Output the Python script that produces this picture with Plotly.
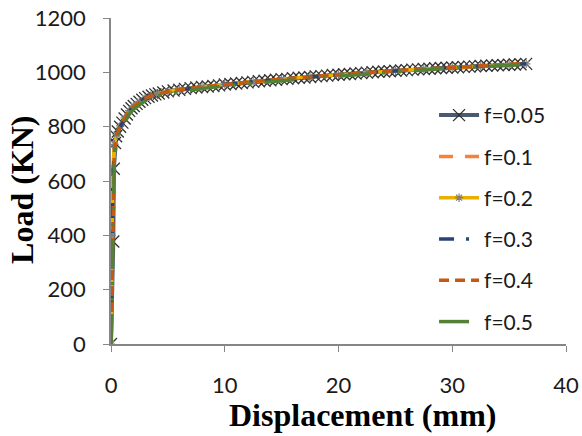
import plotly.graph_objects as go

# f = 0.05 (dense, with X markers)
disp_05 = [0, 0.2, 0.25, 0.35, 0.45, 0.6, 0.8, 1.0, 1.2, 1.4, 1.6, 1.8, 2.0, 2.25, 2.5, 2.75,
           3.0, 3.3, 3.6, 3.9, 4.2, 4.6, 5.0, 5.5, 6.0, 6.5, 7.0, 7.5, 8.0, 8.5, 9.0, 9.5,
           10.0, 10.5, 11.0, 11.5, 12.0, 12.5, 13.0, 13.5, 14.0, 14.5, 15.0, 15.5, 16.0, 16.5,
           17.0, 17.5, 18.0, 18.5, 19.0, 19.5, 20.0, 20.5, 21.0, 21.5, 22.0, 22.5, 23.0, 23.5,
           24.0, 24.5, 25.0, 25.5, 26.0, 26.5, 27.0, 27.5, 28.0, 28.5, 29.0, 29.5, 30.0, 30.5,
           31.0, 31.5, 32.0, 32.5, 33.0, 33.5, 34.0, 34.5, 35.0, 35.5, 36.0, 36.5]
load_05 = [0, 377, 645, 740, 765, 782, 800, 815, 830, 845, 858, 868, 876, 884, 892, 899,
           905, 910, 915, 919, 922, 926, 930, 933, 936, 939, 942, 944, 946, 948, 950, 952,
           955, 957, 959, 961, 963, 965, 967, 969, 971, 973, 975, 976, 978, 980, 981, 983,
           985, 986, 988, 990, 991, 993, 994, 996, 997, 999, 1000, 1002, 1003, 1004, 1006,
           1007, 1008, 1010, 1011, 1012, 1013, 1015, 1016, 1017, 1018, 1019, 1020, 1021,
           1022, 1023, 1024, 1025, 1026, 1027, 1028, 1029, 1030, 1031]

# other series
disp_lines = [0, 0.05, 0.15, 0.3, 0.5, 0.8, 1.2, 1.6, 2.0, 2.5, 3.0, 3.5, 4.0, 5.0, 6.0, 8.0,
              10, 12.5, 15, 17.5, 20, 22.5, 25, 27.5, 30, 32.5, 35, 36.5]
load_10 = [0, 150, 560, 720, 770, 800, 830, 858, 876, 892, 905, 914, 921, 930, 936, 946,
           956, 966, 975, 984, 991, 999, 1006, 1012, 1018, 1023, 1028, 1031]
load_20 = [0, 400, 640, 735, 772, 803, 832, 859, 877, 893, 905, 914, 921, 930, 936, 946,
           956, 966, 975, 984, 991, 999, 1006, 1012, 1018, 1023, 1028, 1031]
load_30 = [0, 200, 580, 725, 770, 800, 830, 858, 876, 892, 905, 914, 921, 930, 936, 946,
           956, 966, 975, 984, 991, 999, 1006, 1012, 1018, 1023, 1028, 1032]
load_40 = [0, 120, 520, 715, 768, 799, 829, 857, 875, 891, 904, 913, 920, 929, 936, 946,
           956, 966, 975, 984, 991, 999, 1006, 1012, 1018, 1023, 1028, 1033]
load_50 = [0, 60, 380, 680, 750, 785, 815, 845, 865, 882, 895, 905, 912, 922, 929, 940,
           950, 960, 969, 978, 986, 994, 1002, 1009, 1016, 1021, 1026, 1029]

names = ["f=0.05", "f=0.1", "f=0.2", "f=0.3", "f=0.4", "f=0.5"]
x_ticks = [0, 10, 20, 30, 40]
y_ticks = [0, 200, 400, 600, 800, 1000, 1200]

fig = go.Figure()
fig.add_trace(go.Scatter(x=disp_05, y=load_05, name=names[0], mode="lines+markers",
                         line=dict(color="#4A5A70", width=4),
                         marker=dict(symbol="x-thin", size=12,
                                     line=dict(color="#303030", width=1.3)),
                         legendgroup="a"))
fig.add_trace(go.Scatter(x=disp_lines, y=load_10, name=names[1], mode="lines",
                         line=dict(color="#F4823A", width=3.5, dash="14px,12px"),
                         legendgroup="b"))
fig.add_trace(go.Scatter(x=disp_lines, y=load_20, name=names[2], mode="lines+markers",
                         line=dict(color="#E8B000", width=3.5),
                         marker=dict(symbol="asterisk", size=7,
                                     line=dict(color="#7F7F7F", width=1.2)),
                         legendgroup="c"))
fig.add_trace(go.Scatter(x=disp_lines, y=load_30, name=names[3], mode="lines",
                         line=dict(color="#264478", width=3.5, dash="15px,12px,3px,12px"),
                         legendgroup="d"))
fig.add_trace(go.Scatter(x=disp_lines, y=load_40, name=names[4], mode="lines",
                         line=dict(color="#C65911", width=3.5, dash="10px,6px"),
                         legendgroup="e"))
fig.add_trace(go.Scatter(x=disp_lines, y=load_50, name=names[5], mode="lines",
                         line=dict(color="#548235", width=3.5,
                                   dash="30px,13px,3px,13px,3px,13px"),
                         legendgroup="f"))

axis_common = dict(showgrid=False, zeroline=False, showline=True, linecolor="#868686",
                   linewidth=1.5, ticks="outside", ticklen=6, tickcolor="#868686",
                   tickwidth=1.2, automargin=False,
                   tickfont=dict(family="Lato", size=22, color="#1a1a1a"))

fig.update_layout(
    width=582, height=436,
    margin=dict(l=111, r=16, t=18, b=92),
    paper_bgcolor="white", plot_bgcolor="white",
    xaxis=dict(range=[0, 40], tickvals=x_ticks, ticklabelstandoff=15, **axis_common),
    yaxis=dict(range=[0, 1200], tickvals=y_ticks, ticklabelstandoff=13, **axis_common),
    legend=dict(x=0.71, y=0.764, xanchor="left", yanchor="top",
                font=dict(family="Lato", size=21, color="#1a1a1a"),
                bgcolor="rgba(0,0,0,0)", tracegroupgap=11, itemwidth=40),
    showlegend=True,
    annotations=[
        dict(text="<b>Displacement (mm)</b>", xref="paper", yref="paper",
             x=0.552, y=-0.218, xanchor="center", yanchor="middle", showarrow=False,
             font=dict(family="Liberation Serif", size=32, color="black")),
        dict(text="<b>Load (KN)</b>", xref="paper", yref="paper",
             x=-0.196, y=0.472, xanchor="center", yanchor="middle", showarrow=False,
             textangle=-90, font=dict(family="Liberation Serif", size=32, color="black")),
    ],
)

fig.write_html("out.html")
